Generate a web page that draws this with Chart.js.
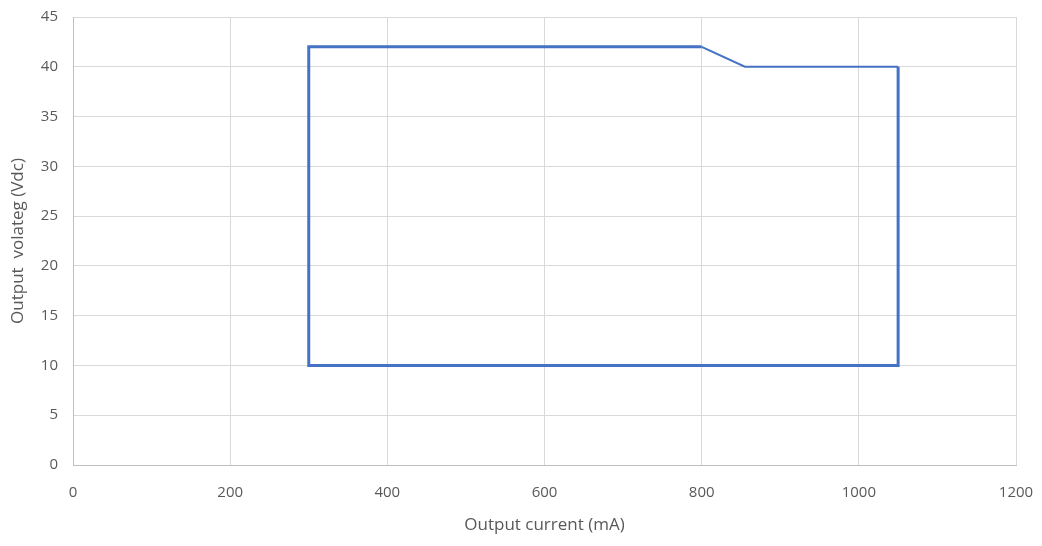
<!DOCTYPE html>
<html>
<head>
<meta charset="utf-8">
<script src="https://cdn.jsdelivr.net/npm/chart.js@4/dist/chart.umd.min.js"></script>
<style>
html,body{margin:0;padding:0;background:#fff;}
#wrap{width:1042px;height:546px;position:relative;}
</style>
</head>
<body>
<div id="wrap"><canvas id="c" width="1042" height="546"></canvas></div>
<script>
// Output current (mA) and voltage (Vdc) for the operating window
const thickCurrent = [1050, 1050, 300, 300, 350, 400, 450, 500, 550, 600, 650, 700, 750, 800];
const thickVoltage = [40, 10, 10, 42, 42, 42, 42, 42, 42, 42, 42, 42, 42, 42];
const thinCurrent = [800, 855, 1050];
const thinVoltage = [42, 40, 40];
const xTicks = [0, 200, 400, 600, 800, 1000, 1200];
const yTicks = [0, 5, 10, 15, 20, 25, 30, 35, 40, 45];

const toPts = (xs, ys) => xs.map((x, i) => ({x: x, y: ys[i]}));
const blue = '#4472C4';
const grey = '#595959';
const tickFont = {family: "'Open Sans', sans-serif", size: 15};
const titleFont = {family: "'Open Sans', sans-serif", size: 17};

new Chart(document.getElementById('c'), {
  type: 'scatter',
  data: {
    datasets: [
      {data: toPts(thickCurrent, thickVoltage), showLine: true, borderColor: blue, borderWidth: 3, pointRadius: 0, fill: false, tension: 0},
      {data: toPts(thinCurrent, thinVoltage), showLine: true, borderColor: blue, borderWidth: 2, pointRadius: 0, fill: false, tension: 0}
    ]
  },
  options: {
    responsive: false,
    animation: false,
    layout: {padding: {left: 0, right: 26, top: 17, bottom: 0}},
    plugins: {legend: {display: false}, tooltip: {enabled: false}},
    scales: {
      x: {
        type: 'linear', min: 0, max: 1200,
        afterBuildTicks: s => { s.ticks = xTicks.map(v => ({value: v})); },
        afterFit: s => { s.height = 81; s.paddingLeft = 0; s.paddingRight = 0; },
        grid: {color: '#d9d9d9', drawTicks: false, lineWidth: 1},
        border: {color: '#bfbfbf'},
        ticks: {color: grey, font: tickFont, padding: 19, callback: v => String(v)},
        title: {display: true, text: 'Output current (mA)', color: grey, font: titleFont, padding: {top: 4, bottom: 11}}
      },
      y: {
        type: 'linear', min: 0, max: 45,
        afterBuildTicks: s => { s.ticks = yTicks.map(v => ({value: v})); },
        afterFit: s => { s.width = 73; s.paddingTop = 0; s.paddingBottom = 0; },
        grid: {color: '#d9d9d9', drawTicks: false, lineWidth: 1},
        border: {color: '#bfbfbf'},
        ticks: {color: grey, font: tickFont, padding: 15, callback: v => String(v)},
        title: {display: true, text: 'Output  volateg (Vdc)', color: grey, font: titleFont, padding: {top: 8, bottom: 0}}
      }
    }
  }
});
</script>
</body>
</html>
